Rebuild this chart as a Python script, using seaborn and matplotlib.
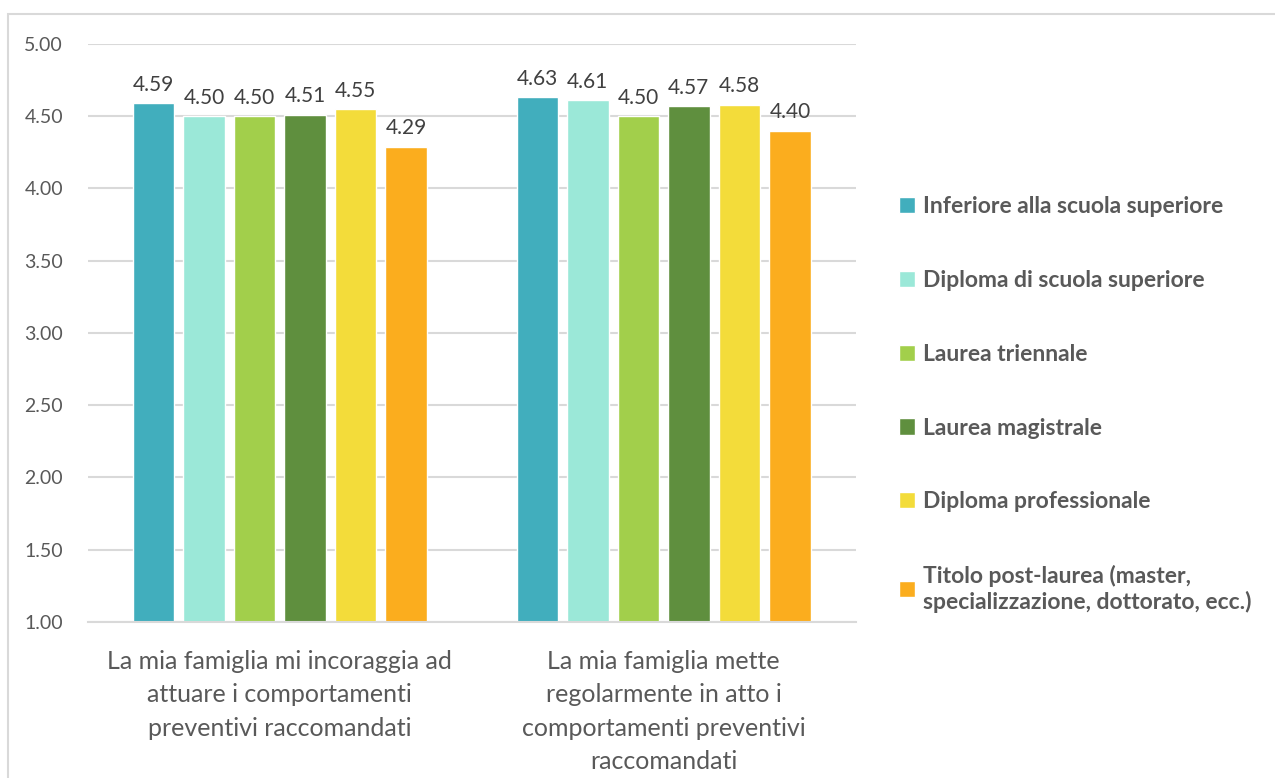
import matplotlib
matplotlib.use("Agg")
import matplotlib.pyplot as plt
from matplotlib.patches import Rectangle
import seaborn as sns
import pandas as pd

categories = [
    "La mia famiglia mi incoraggia ad\nattuare i comportamenti\npreventivi raccomandati",
    "La mia famiglia mette\nregolarmente in atto i\ncomportamenti preventivi\nraccomandati",
]
series = [
    "Inferiore alla scuola superiore",
    "Diploma di scuola superiore",
    "Laurea triennale",
    "Laurea magistrale",
    "Diploma professionale",
    "Titolo post-laurea (master,\nspecializzazione, dottorato, ecc.)",
]
values = [
    [4.59, 4.63],
    [4.50, 4.61],
    [4.50, 4.50],
    [4.51, 4.57],
    [4.55, 4.58],
    [4.29, 4.40],
]
colors = ["#41AEBD", "#9BE8D8", "#A2CF4B", "#5F8F3E", "#F3DC3A", "#FBAD1E"]

rows = []
for s, vals in zip(series, values):
    for c, v in zip(categories, vals):
        rows.append({"cat": c, "series": s, "value": v})
df = pd.DataFrame(rows)

sns.set_theme(style="white")
plt.rcParams["font.family"] = ["Lato", "DejaVu Sans"]

fig = plt.figure(figsize=(12.75, 7.78), dpi=100)
ax = fig.add_axes([0.069, 0.2005, 0.602, 0.743])

sns.barplot(data=df, x="cat", y="value", hue="series", palette=colors,
            width=0.79, gap=0.18, ax=ax, saturation=1)

# view limited to 1..5 like the original
ax.set_ylim(1, 5)
ax.set_yticks([1, 1.5, 2, 2.5, 3, 3.5, 4, 4.5, 5])
ax.set_yticklabels([f"{t:.2f}" for t in ax.get_yticks()], fontsize=14, color="#595959")
ax.tick_params(axis="x", labelsize=18, colors="#595959", length=0, pad=20)
ax.tick_params(axis="y", length=0, pad=18)
for lab in ax.get_xticklabels():
    lab.set_linespacing(1.55)
ax.set_xlabel("")
ax.set_ylabel("")
ax.yaxis.grid(True, color="#D9D9D9", linewidth=1.5)
ax.set_axisbelow(True)
for side in ["top", "right", "left"]:
    ax.spines[side].set_visible(False)
ax.spines["bottom"].set_color("#D9D9D9")
ax.spines["bottom"].set_linewidth(1.5)

for cont in ax.containers:
    ax.bar_label(cont, fmt="%.2f", padding=6, fontsize=15, color="#404040")

handles, labels = ax.get_legend_handles_labels()
leg = ax.legend(handles, labels, loc="center left", bbox_to_anchor=(0.689, 0.48),
                bbox_transform=fig.transFigure, frameon=False,
                handlelength=0.7, handleheight=0.7, handletextpad=0.35,
                labelspacing=2.3, prop={"weight": "bold", "size": 16.5})
for t in leg.get_texts():
    t.set_color("#595959")

fig.patches.append(Rectangle((8 / 1275, -0.01), 1.0, 1 - 14 / 778 + 0.01,
                             transform=fig.transFigure, fill=False,
                             edgecolor="#D9D9D9", linewidth=1.5))

fig.savefig("out.png", dpi=100)
